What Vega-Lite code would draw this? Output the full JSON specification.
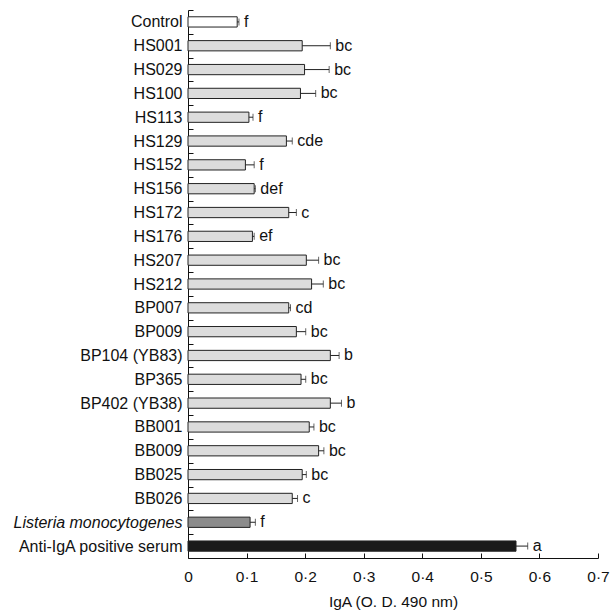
{
  "$schema": "https://vega.github.io/schema/vega-lite/v6.json",
  "autosize": {"type": "none"},
  "padding": {"left": 188, "top": 10, "right": 15, "bottom": 54},
  "width": 410,
  "height": 548,
  "background": "white",
  "config": {
    "view": {"stroke": null},
    "font": "Liberation Sans",
    "axis": {"labelFont": "Liberation Sans", "titleFont": "Liberation Sans", "labelColor": "#111", "titleColor": "#111", "domainColor": "#111", "tickColor": "#111", "grid": false}
  },
  "data": {
    "values": [
      {"name": "Control", "mean": 0.084, "hi": 0.087, "letter": "f", "group": "control"},
      {"name": "HS001", "mean": 0.195, "hi": 0.243, "letter": "bc", "group": "strain"},
      {"name": "HS029", "mean": 0.199, "hi": 0.241, "letter": "bc", "group": "strain"},
      {"name": "HS100", "mean": 0.192, "hi": 0.218, "letter": "bc", "group": "strain"},
      {"name": "HS113", "mean": 0.104, "hi": 0.111, "letter": "f", "group": "strain"},
      {"name": "HS129", "mean": 0.168, "hi": 0.178, "letter": "cde", "group": "strain"},
      {"name": "HS152", "mean": 0.098, "hi": 0.113, "letter": "f", "group": "strain"},
      {"name": "HS156", "mean": 0.113, "hi": 0.115, "letter": "def", "group": "strain"},
      {"name": "HS172", "mean": 0.172, "hi": 0.185, "letter": "c", "group": "strain"},
      {"name": "HS176", "mean": 0.110, "hi": 0.113, "letter": "ef", "group": "strain"},
      {"name": "HS207", "mean": 0.202, "hi": 0.223, "letter": "bc", "group": "strain"},
      {"name": "HS212", "mean": 0.211, "hi": 0.231, "letter": "bc", "group": "strain"},
      {"name": "BP007", "mean": 0.172, "hi": 0.175, "letter": "cd", "group": "strain"},
      {"name": "BP009", "mean": 0.185, "hi": 0.201, "letter": "bc", "group": "strain"},
      {"name": "BP104 (YB83)", "mean": 0.243, "hi": 0.258, "letter": "b", "group": "strain"},
      {"name": "BP365", "mean": 0.193, "hi": 0.201, "letter": "bc", "group": "strain"},
      {"name": "BP402 (YB38)", "mean": 0.243, "hi": 0.262, "letter": "b", "group": "strain"},
      {"name": "BB001", "mean": 0.207, "hi": 0.215, "letter": "bc", "group": "strain"},
      {"name": "BB009", "mean": 0.223, "hi": 0.232, "letter": "bc", "group": "strain"},
      {"name": "BB025", "mean": 0.195, "hi": 0.202, "letter": "bc", "group": "strain"},
      {"name": "BB026", "mean": 0.178, "hi": 0.187, "letter": "c", "group": "strain"},
      {"name": "Listeria monocytogenes", "mean": 0.106, "hi": 0.115, "letter": "f", "group": "listeria"},
      {"name": "Anti-IgA positive serum", "mean": 0.560, "hi": 0.580, "letter": "a", "group": "positive"}
    ]
  },
  "encoding": {
    "y": {
      "field": "name", "type": "nominal", "sort": null,
      "scale": {"paddingInner": 0.57, "paddingOuter": 0.285},
      "axis": {
        "title": null, "labelFontSize": 16, "labelPadding": 11,
        "bandPosition": 0.5, "tickOffset": -11.92, "labelOffset": 11.92, "tickSize": -5,
        "labelFontStyle": {"expr": "datum.value == 'Listeria monocytogenes' ? 'italic' : 'normal'"}
      }
    }
  },
  "layer": [
    {
      "mark": {"type": "bar", "stroke": "#222", "strokeWidth": 1},
      "encoding": {
        "x": {
          "field": "mean", "type": "quantitative",
          "scale": {"domain": [0, 0.7], "nice": false, "zero": true},
          "axis": {
            "title": "IgA (O. D. 490 nm)", "titleFontSize": 15.5, "titleFontWeight": "normal", "titlePadding": 10,
            "values": [0, 0.1, 0.2, 0.3, 0.4, 0.5, 0.6, 0.7],
            "labelExpr": "datum.value == 0 ? '0' : replace(format(datum.value, '.1f'), '.', '·')",
            "labelFontSize": 15.5, "tickSize": -5, "labelPadding": 16, "labelFlush": false
          }
        },
        "fill": {
          "field": "group", "type": "nominal", "legend": null,
          "scale": {"domain": ["control", "strain", "listeria", "positive"], "range": ["#ffffff", "#dcdcdc", "#8c8c8c", "#1a1a1a"]}
        }
      }
    },
    {
      "mark": {"type": "rule", "color": "#222", "strokeWidth": 1},
      "encoding": {
        "x": {"field": "mean", "type": "quantitative"},
        "x2": {"field": "hi"}
      }
    },
    {
      "mark": {"type": "tick", "color": "#222", "thickness": 1, "size": 7, "orient": "vertical"},
      "encoding": {
        "x": {"field": "hi", "type": "quantitative"}
      }
    },
    {
      "mark": {"type": "text", "align": "left", "baseline": "middle", "dx": 5, "fontSize": 16, "color": "#111"},
      "encoding": {
        "x": {"field": "hi", "type": "quantitative"},
        "text": {"field": "letter"}
      }
    }
  ]
}
